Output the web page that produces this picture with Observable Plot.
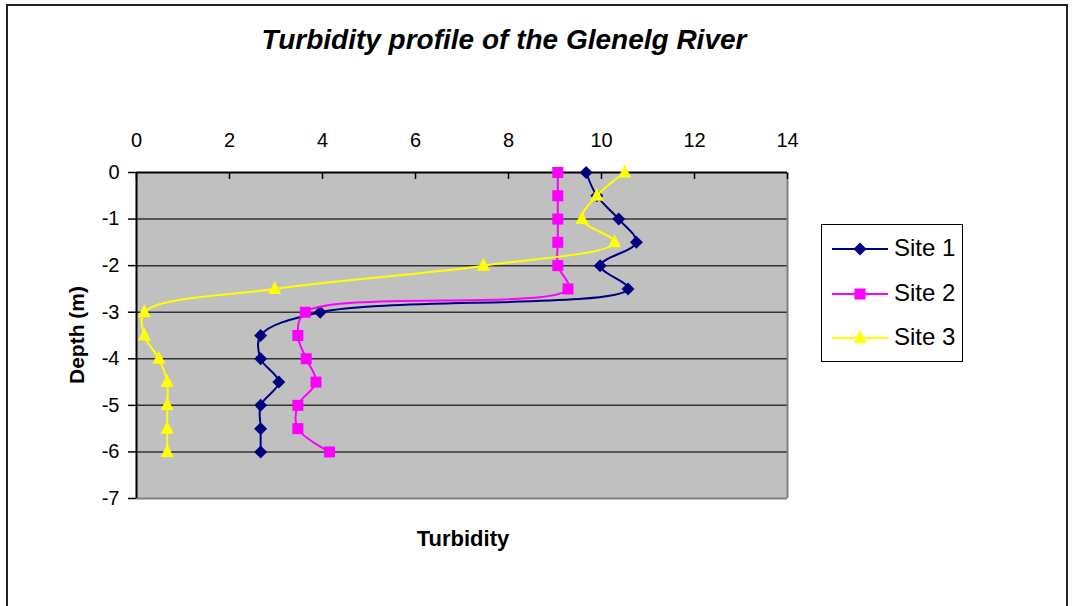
<!DOCTYPE html>
<html>
<head>
<meta charset="utf-8">
<script src="https://cdn.jsdelivr.net/npm/d3@7"></script>
<script src="https://cdn.jsdelivr.net/npm/@observablehq/plot@0.6"></script>
<style>
  html, body { margin: 0; padding: 0; background: #fff; }
  #wrap { position: relative; width: 1072px; height: 606px; overflow: hidden; font-family: Arial, "Liberation Sans", sans-serif; }
  #border { position: absolute; left: 6px; top: 4px; width: 1062px; height: 640px; border: 2px solid #222; box-sizing: border-box; }
  #chart { position: absolute; left: 0; top: 0; }
  .title { position: absolute; left: 204px; width: 600px; top: 24px; text-align: center; font-size: 28px; font-weight: bold; font-style: italic; }
  .xlabel { position: absolute; left: 363px; width: 200px; top: 526px; text-align: center; font-size: 22px; font-weight: bold; }
  .ylabel { position: absolute; left: 77px; top: 335px; transform: translate(-50%, -50%) rotate(-90deg); font-size: 21px; font-weight: bold; white-space: nowrap; }
  #legend { position: absolute; left: 821px; top: 224px; width: 142px; height: 138px; border: 1px solid #000; background: #fff; box-sizing: border-box; }
  .item { position: absolute; left: 0; height: 30px; display: flex; align-items: center; font-size: 24px; }
  .item svg { display: block; }
</style>
</head>
<body>
<div id="wrap">
  <div id="border"></div>
  <div id="chart"></div>
  <div class="title">Turbidity profile of the Glenelg River</div>
  <div class="xlabel">Turbidity</div>
  <div class="ylabel">Depth (m)</div>
  <div id="legend"></div>
</div>
<script>
const depths = [0, -0.5, -1, -1.5, -2, -2.5, -3, -3.5, -4, -4.5, -5, -5.5, -6];
const site1 = [9.67, 9.9, 10.37, 10.75, 9.97, 10.57, 3.95, 2.67, 2.67, 3.06, 2.67, 2.67, 2.67];
const site2 = [9.06, 9.06, 9.06, 9.06, 9.06, 9.28, 3.63, 3.47, 3.65, 3.86, 3.47, 3.47, 4.15];
const site3 = [10.5, 9.9, 9.58, 10.28, 7.46, 2.97, 0.17, 0.17, 0.48, 0.66, 0.66, 0.66, 0.66];
const siteNames = ["Site 1", "Site 2", "Site 3"];
const siteColors = ["#000080", "#FF00FF", "#FFFF00"];
const xTicks = [0, 2, 4, 6, 8, 10, 12, 14];
const yTicks = [0, -1, -2, -3, -4, -5, -6, -7];
const yGrid = [-1, -2, -3, -4, -5, -6];

const diamond = { draw(ctx) { const h = 6.5; ctx.moveTo(0, -h); ctx.lineTo(h, 0); ctx.lineTo(0, h); ctx.lineTo(-h, 0); ctx.closePath(); } };
const square = { draw(ctx) { const h = 5.5; ctx.moveTo(-h, -h); ctx.lineTo(h, -h); ctx.lineTo(h, h); ctx.lineTo(-h, h); ctx.closePath(); } };
const triangle = { draw(ctx) { ctx.moveTo(0, -8); ctx.lineTo(6.5, 5); ctx.lineTo(-6.5, 5); ctx.closePath(); } };
const symbols = [diamond, square, triangle];

const series = [site1, site2, site3];
const data = series.flatMap((vals, i) => vals.map((v, j) => ({ site: siteNames[i], turb: v, depth: depths[j] })));

const marks = [
  Plot.frame({ fill: "#C0C0C0" }),
  Plot.gridY(yGrid, { stroke: "#333", strokeOpacity: 1, strokeWidth: 1.5 }),
  Plot.ruleX([14], { stroke: "#808080", strokeWidth: 2 }),
  Plot.ruleY([-7], { stroke: "#808080", strokeWidth: 2 }),
  Plot.ruleX([0], { stroke: "#000", strokeWidth: 2 }),
  Plot.ruleY([0], { stroke: "#000", strokeWidth: 2 }),
  Plot.axisX(xTicks, { anchor: "top", tickSize: 0, tickPadding: 26, label: null, fontSize: 20 }),
  Plot.axisX(xTicks, { anchor: "top", tickSize: -6, tickFormat: () => "", label: null, strokeWidth: 1.5 }),
  Plot.axisY(yTicks, { anchor: "left", tickSize: 8, tickPadding: 9, tickFormat: d => String(d), label: null, fontSize: 20, strokeWidth: 1.5 })
];
siteNames.forEach((name, i) => {
  const d = data.filter(r => r.site === name);
  marks.push(Plot.line(d, { x: "turb", y: "depth", stroke: siteColors[i], strokeWidth: 2, curve: "catmull-rom" }));
  marks.push(Plot.dot(d, { x: "turb", y: "depth", symbol: symbols[i], fill: siteColors[i], stroke: "none", r: 5 }));
});

const chart = Plot.plot({
  width: 1072, height: 606,
  marginTop: 172, marginLeft: 136, marginRight: 285, marginBottom: 108,
  style: { fontFamily: "Arial, 'Liberation Sans', sans-serif", fontSize: "20px", color: "#000", background: "transparent", overflow: "visible" },
  x: { domain: [0, 14] },
  y: { domain: [-7, 0] },
  marks
});
document.getElementById("chart").appendChild(chart);

// legend
const legend = document.getElementById("legend");
const itemTops = [8, 53, 97];
siteNames.forEach((name, i) => {
  const it = document.createElement("div");
  it.className = "item";
  it.style.top = itemTops[i] + "px";
  const ns = "http://www.w3.org/2000/svg";
  const svg = document.createElementNS(ns, "svg");
  svg.setAttribute("width", 72); svg.setAttribute("height", 30);
  const line = document.createElementNS(ns, "line");
  line.setAttribute("x1", 10); line.setAttribute("x2", 66); line.setAttribute("y1", 16); line.setAttribute("y2", 16);
  line.setAttribute("stroke", siteColors[i]); line.setAttribute("stroke-width", 2);
  svg.appendChild(line);
  const path = document.createElementNS(ns, "path");
  const p = d3.path(); symbols[i].draw(p);
  path.setAttribute("d", p.toString());
  path.setAttribute("transform", "translate(38,16)");
  path.setAttribute("fill", siteColors[i]);
  svg.appendChild(path);
  it.appendChild(svg);
  const t = document.createElement("span");
  t.textContent = name;
  it.appendChild(t);
  legend.appendChild(it);
});
</script>
</body>
</html>
